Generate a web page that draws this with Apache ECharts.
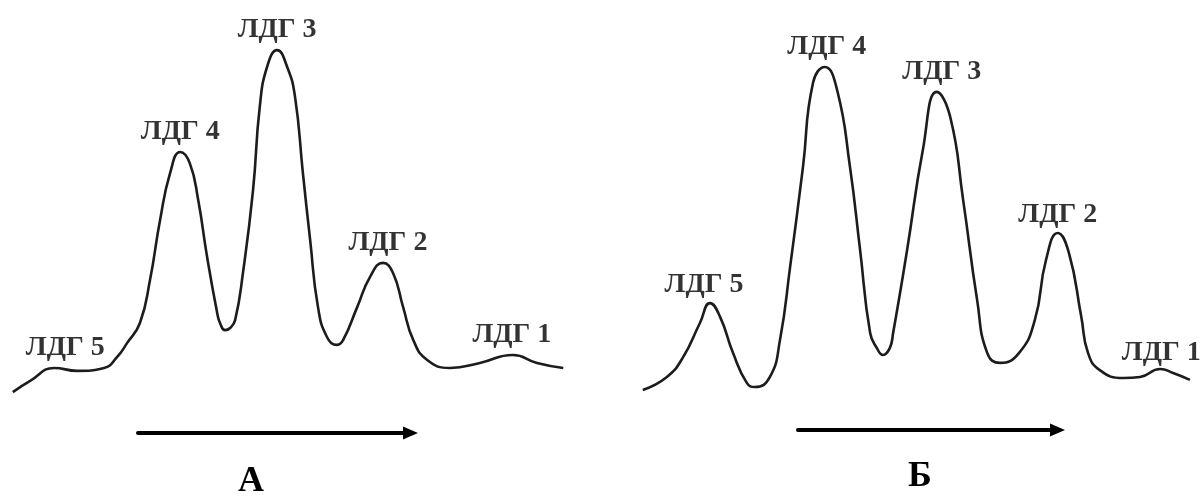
<!DOCTYPE html>
<html>
<head>
<meta charset="utf-8">
<title>ЛДГ</title>
<script src="https://cdn.jsdelivr.net/npm/echarts@6/dist/echarts.min.js"></script>
<style>
  html, body { margin: 0; padding: 0; background: #ffffff; }
  #chart { width: 1204px; height: 497px; }
</style>
</head>
<body>
<div id="chart"></div>
<script>
// Densitograms of LDH isoenzymes: [mobility, optical density] along the gel
const curveA = [
  [0.5, 2.2], [3.6, 5.3], [7.9, 8.9], [12.0, 8.1], [16.8, 8.9], [19.1, 11.9],
  [20.9, 15.8], [23.2, 21.4], [25.0, 33.3], [26.8, 50.0], [28.6, 63.1], [30.4, 68.9],
  [32.1, 65.8], [33.6, 55.6], [35.2, 39.7], [37.0, 24.2], [37.5, 21.4], [38.4, 19.4],
  [39.3, 20.0], [40.2, 22.2],
  [41.6, 35.3], [43.4, 58.3], [44.6, 81.4], [45.9, 92.5], [47.7, 97.2], [49.5, 92.5],
  [50.9, 84.2], [52.3, 63.1], [53.6, 44.4], [55.0, 25.8], [56.6, 17.5], [58.4, 15.3],
  [59.5, 16.7], [62.0, 25.8], [64.3, 34.2], [66.6, 38.1], [68.4, 35.3], [70.2, 25.8],
  [72.0, 16.7], [74.5, 11.1], [78.6, 8.9], [83.9, 10.3], [89.8, 12.5], [94.1, 10.3],
  [98.8, 8.9]
];
const curveB = [
  [0.5, 2.8], [4.8, 6.4], [7.7, 11.9], [10.7, 21.4], [12.5, 26.9], [14.3, 23.1],
  [16.6, 13.1], [19.1, 4.7], [20.5, 3.6], [23.2, 6.4], [25.0, 16.7], [26.8, 36.9],
  [29.1, 64.7], [30.9, 88.1], [33.0, 92.5], [35.2, 86.1], [37.5, 64.7], [39.3, 41.7],
  [41.1, 18.6], [42.3, 14.4], [43.4, 12.5], [44.6, 14.4], [45.2, 18.6],
  [47.7, 41.7], [50.5, 69.4], [53.0, 85.6],
  [55.4, 78.6], [57.7, 55.6], [60.2, 27.8], [62.0, 13.1], [64.3, 10.3], [67.7, 13.1],
  [70.5, 22.2], [72.5, 38.9], [74.6, 46.4], [76.6, 40.8], [78.8, 23.1], [80.0, 13.1],
  [82.1, 8.3], [86.3, 6.1], [89.3, 6.4], [92.9, 8.6], [95.2, 7.5], [98.2, 5.6]
];

// Isoenzyme fractions and the index of the curve point at each fraction's peak
const fractionNames = ['ЛДГ 5', 'ЛДГ 4', 'ЛДГ 3', 'ЛДГ 2', 'ЛДГ 1'];
const peakIdxA = [2, 11, 24, 35, 42];
const peakIdxB = [4, 14, 25, 34, 41];
const panelTitles = ['А', 'Б'];

const LINE = '#1c1c1c';
const SERIF = '"Liberation Serif", "DejaVu Serif", serif';

function peakPoints(curve, idx) {
  return idx.map((i, k) => ({ value: curve[i], name: fractionNames[k] }));
}

function labelSeries(curve, idx, gridIndex, offsets) {
  return {
    type: 'scatter',
    xAxisIndex: gridIndex,
    yAxisIndex: gridIndex,
    symbolSize: 0,
    silent: true,
    data: peakPoints(curve, idx).map((p, k) => ({
      value: p.value,
      name: p.name,
      label: { offset: offsets[k] }
    })),
    label: {
      show: true,
      position: 'top',
      distance: 6,
      formatter: '{b}',
      color: '#000',
      fontFamily: SERIF,
      fontWeight: 'bold',
      fontSize: 28
    }
  };
}

function curveSeries(curve, gridIndex) {
  return {
    type: 'line',
    xAxisIndex: gridIndex,
    yAxisIndex: gridIndex,
    data: curve,
    smooth: 0.5,
    showSymbol: false,
    silent: true,
    clip: false,
    lineStyle: { color: LINE, width: 2.6 }
  };
}

function arrow(x1, x2, y) {
  return [
    { type: 'line', shape: { x1: x1, y1: y, x2: x2 - 8, y2: y },
      style: { stroke: '#000', lineWidth: 4, lineCap: 'round' } },
    { type: 'polygon', shape: { points: [[x2 - 15, y - 6.5], [x2, y], [x2 - 15, y + 6.5]] },
      style: { fill: '#000' } }
  ];
}

const axisOff = { show: false, type: 'value', min: 0, max: 100 };

const option = {
  backgroundColor: '#ffffff',
  animation: false,
  grid: [
    { left: 10, top: 40, width: 560, height: 360 },
    { left: 640, top: 40, width: 560, height: 360 }
  ],
  xAxis: [
    Object.assign({ gridIndex: 0 }, axisOff),
    Object.assign({ gridIndex: 1 }, axisOff)
  ],
  yAxis: [
    Object.assign({ gridIndex: 0 }, axisOff),
    Object.assign({ gridIndex: 1 }, axisOff)
  ],
  series: [
    curveSeries(curveA, 0),
    curveSeries(curveB, 1),
    labelSeries(curveA, peakIdxA, 0, [[11, 0], [0, 0], [0, 0], [5, 0], [-1, 0]]),
    labelSeries(curveB, peakIdxB, 1, [[-6, 2], [2, 0], [5, 0], [0, 2], [1, 4]])
  ],
  graphic: [].concat(
    arrow(138, 418, 433),
    arrow(798, 1065, 430),
    [
      { type: 'text', left: 238, top: 464,
        style: { text: panelTitles[0], font: 'bold 36px ' + SERIF, fill: '#000' } },
      { type: 'text', left: 908, top: 459,
        style: { text: panelTitles[1], font: 'bold 36px ' + SERIF, fill: '#000' } }
    ]
  )
};

const chart = echarts.init(document.getElementById('chart'), null, { renderer: 'canvas' });
chart.setOption(option);
</script>
</body>
</html>
